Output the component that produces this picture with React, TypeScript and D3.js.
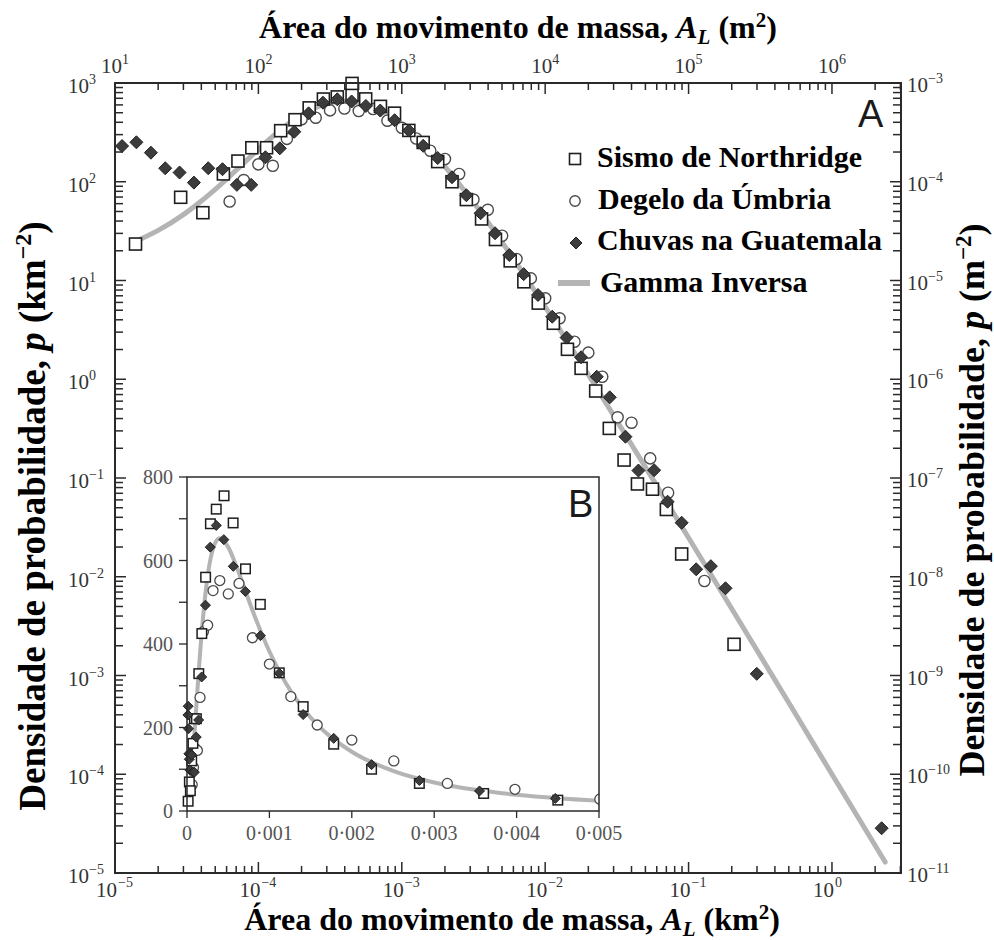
import React from "react";
import * as d3 from "d3";

// Landslide area (km²) and probability density (km⁻²) for each inventory
const northridgeArea = [1.39e-5, 2.87e-5, 4.1e-5, 5.7e-5, 7.2e-5, 9.0e-5, 1.14e-4, 1.43e-4, 1.8e-4, 2.26e-4, 2.84e-4, 3.55e-4, 4.5e-4, 4.5e-4, 5.6e-4, 7.1e-4, 8.9e-4, 1.12e-3, 1.41e-3, 1.78e-3, 2.24e-3, 2.82e-3, 3.6e-3, 4.5e-3, 5.7e-3, 7.1e-3, 8.95e-3, 1.14e-2, 1.43e-2, 1.78e-2, 2.25e-2, 2.8e-2, 3.55e-2, 4.4e-2, 5.6e-2, 7.0e-2, 8.95e-2, 0.2075];
const northridgeDensity = [23.4, 69.6, 48.6, 120, 162, 221, 221, 329, 425, 560, 688, 723, 755, 990, 690, 580, 495, 331, 250, 160, 100, 66, 42, 26, 15.8, 9.7, 5.9, 3.69, 2.01, 1.29, 0.76, 0.318, 0.152, 0.087, 0.077, 0.048, 0.017, 0.00207];

const umbriaArea = [6.3e-5, 7.9e-5, 1.0e-4, 1.26e-4, 1.58e-4, 2.0e-4, 2.51e-4, 3.16e-4, 3.98e-4, 5.01e-4, 6.31e-4, 7.94e-4, 1.0e-3, 1.26e-3, 1.58e-3, 2.0e-3, 2.51e-3, 3.16e-3, 3.98e-3, 5.01e-3, 6.31e-3, 7.94e-3, 1.0e-2, 1.26e-2, 1.6e-2, 2.0e-2, 2.5e-2, 3.2e-2, 4.0e-2, 5.4e-2, 7.2e-2, 0.129];
const umbriaDensity = [63, 104, 150, 145, 272, 430, 445, 528, 552, 520, 545, 415, 352, 274, 206, 170, 120, 66, 52, 28.4, 16.5, 10.5, 6.6, 4.14, 2.4, 1.86, 1.06, 0.412, 0.363, 0.158, 0.071, 0.00906];

const guatemalaArea = [1.12e-5, 1.41e-5, 1.78e-5, 2.24e-5, 2.82e-5, 3.55e-5, 4.47e-5, 5.62e-5, 7.08e-5, 8.91e-5, 1.12e-4, 1.41e-4, 1.78e-4, 2.24e-4, 2.82e-4, 3.55e-4, 4.47e-4, 5.62e-4, 7.08e-4, 8.91e-4, 1.12e-3, 1.41e-3, 1.78e-3, 2.24e-3, 2.82e-3, 3.55e-3, 4.47e-3, 5.62e-3, 7.08e-3, 8.91e-3, 1.12e-2, 1.41e-2, 1.78e-2, 2.29e-2, 2.82e-2, 3.63e-2, 4.47e-2, 5.75e-2, 7.14e-2, 8.95e-2, 0.113, 0.143, 0.181, 0.299, 2.22];
const guatemalaDensity = [230, 251, 197, 137, 124, 98, 137, 134, 93, 93, 177, 218, 321, 493, 632, 684, 650, 586, 526, 420, 330, 231, 174, 111, 73, 48, 30.1, 18.1, 11.6, 7.13, 4.3, 2.64, 1.67, 1.06, 0.656, 0.262, 0.119, 0.12, 0.0575, 0.0352, 0.0119, 0.0128, 0.00764, 0.00104, 2.84e-5];

// Inverse-gamma fit, sampled along the area axis
const gammaArea = [0, 1e-5, 1.5e-5, 2e-5, 3e-5, 4e-5, 5e-5, 6e-5, 7e-5, 8e-5, 1e-4, 1.2e-4, 1.5e-4, 2e-4, 2.5e-4, 3e-4, 3.5e-4, 4e-4, 5e-4, 6e-4, 7e-4, 8e-4, 1e-3, 1.2e-3, 1.5e-3, 2e-3, 2.5e-3, 3e-3, 3.5e-3, 4e-3, 4.5e-3, 5e-3, 7e-3, 1e-2, 2e-2, 3e-2, 5e-2, 0.1, 0.2, 0.5, 1, 2.35];
const gammaDensity = [12.6, 21.0, 26.2, 32.2, 46.5, 63.8, 83.8, 106, 131, 157, 213, 271, 355, 475, 562, 617, 645, 653, 632, 586, 532, 478, 382, 306, 224, 142, 96.0, 68.3, 50.7, 38.8, 30.5, 24.5, 11.9, 5.41, 1.11, 0.43, 0.129, 0.0248, 0.00474, 5.29e-4, 1.0e-4, 1.29e-5];

// Axis decades
const bottomDecades = [1e-5, 1e-4, 1e-3, 1e-2, 1e-1, 1];
const topDecades = [1e1, 1e2, 1e3, 1e4, 1e5, 1e6];
const leftDecades = [1e3, 1e2, 1e1, 1, 1e-1, 1e-2, 1e-3, 1e-4, 1e-5];
const rightDecades = [1e-3, 1e-4, 1e-5, 1e-6, 1e-7, 1e-8, 1e-9, 1e-10, 1e-11];

// Inset (linear) axes
const insetXTicks = [0, 0.001, 0.002, 0.003, 0.004, 0.005];
const insetXLabels = ["0", "0·001", "0·002", "0·003", "0·004", "0·005"];
const insetYTicks = [0, 200, 400, 600, 800];

const legendLabels = ["Sismo de Northridge", "Degelo da Úmbria", "Chuvas na Guatemala", "Gamma Inversa"];

const SERIF = "'Liberation Serif', 'Times New Roman', serif";
const SANS = "'Liberation Sans', Arial, sans-serif";

const expText = (v: number) => {
  const e = Math.round(Math.log10(v));
  return e < 0 ? "\u2212" + Math.abs(e) : String(e);
};
const isDecade = (v: number) => Math.abs(Math.log10(v) - Math.round(Math.log10(v))) < 1e-9;

function Square({ cx, cy, s, stroke = "#1e1e1e", sw = 1.6 }: any) {
  return <rect x={cx - s / 2} y={cy - s / 2} width={s} height={s} fill="#fff" stroke={stroke} strokeWidth={sw} />;
}
function Circle({ cx, cy, r, sw = 1.4 }: any) {
  return <circle cx={cx} cy={cy} r={r} fill="#fff" stroke="#4a4a4a" strokeWidth={sw} />;
}
function Diamond({ cx, cy, r }: any) {
  return (
    <path
      d={`M${cx},${cy - r}L${cx + r},${cy}L${cx},${cy + r}L${cx - r},${cy}Z`}
      fill="#3c3c3c"
      stroke="#222"
      strokeWidth={1}
    />
  );
}

export default function App() {
  const L = 115, R = 901, T = 83, B = 873;
  const x = d3.scaleLog().domain([1e-5, 3.03]).range([L, R]);
  const xTop = d3.scaleLog().domain([1e1, 3.03e6]).range([L, R]);
  const y = d3.scaleLog().domain([1e-5, 1e3]).range([B, T]);
  const yRight = d3.scaleLog().domain([1e-11, 1e-3]).range([B, T]);

  const iL = 187, iR = 599, iT = 477, iB = 811;
  const xi = d3.scaleLinear().domain([0, 0.005]).range([iL, iR]);
  const yi = d3.scaleLinear().domain([0, 800]).range([iB, iT]);

  const gammaPts: [number, number][] = gammaArea.map((a, i) => [a, gammaDensity[i]]);
  const mainCurve = d3
    .line<[number, number]>()
    .x((d) => x(d[0]))
    .y((d) => y(d[1]))
    .curve(d3.curveMonotoneX)(gammaPts.filter((d) => d[0] >= 1.5e-5));
  const insetCurve = d3
    .line<[number, number]>()
    .x((d) => xi(d[0]))
    .y((d) => yi(d[1]))
    .curve(d3.curveMonotoneX)(gammaPts.filter((d) => d[0] <= 0.0051));

  const axisColor = "#2a2a2a";
  const labelColor = "#333";

  const squares = northridgeArea.map((a, i) => ({ a, p: northridgeDensity[i] }));
  const circles = umbriaArea.map((a, i) => ({ a, p: umbriaDensity[i] }));
  const diamonds = guatemalaArea.map((a, i) => ({ a, p: guatemalaDensity[i] }));

  return (
    <svg
      width={994}
      height={940}
      viewBox="0 0 994 940"
      style={{ position: "absolute", left: 0, top: 0, background: "#fff" }}
    >
      <rect x={0} y={0} width={994} height={940} fill="#fff" />

      {/* fitted curve */}
      <path d={mainCurve || ""} fill="none" stroke="#b4b4b4" strokeWidth={5} strokeLinecap="round" />

      {/* data markers */}
      {circles.map((d, i) => (
        <Circle key={"c" + i} cx={x(d.a)} cy={y(d.p)} r={5.6} />
      ))}
      {squares.map((d, i) => (
        <Square key={"s" + i} cx={x(d.a)} cy={y(d.p)} s={12} />
      ))}
      {diamonds.map((d, i) => (
        <Diamond key={"d" + i} cx={x(d.a)} cy={y(d.p)} r={6.5} />
      ))}

      {/* frame */}
      <rect x={L} y={T} width={R - L} height={B - T} fill="none" stroke={axisColor} strokeWidth={2} />

      {/* ticks on all four sides, pointing inward */}
      {x.ticks().map((v, i) => (
        <line key={"bt" + i} x1={x(v)} x2={x(v)} y1={B} y2={B - (isDecade(v) ? 11 : 7)} stroke={axisColor} strokeWidth={1.5} />
      ))}
      {xTop.ticks().map((v, i) => (
        <line key={"tt" + i} x1={xTop(v)} x2={xTop(v)} y1={T} y2={T + (isDecade(v) ? 11 : 7)} stroke={axisColor} strokeWidth={1.5} />
      ))}
      {y.ticks().map((v, i) => (
        <line key={"lt" + i} x1={L} x2={L + (isDecade(v) ? 11 : 8)} y1={y(v)} y2={y(v)} stroke={axisColor} strokeWidth={1.5} />
      ))}
      {yRight.ticks().map((v, i) => (
        <line key={"rt" + i} x1={R} x2={R - (isDecade(v) ? 11 : 8)} y1={yRight(v)} y2={yRight(v)} stroke={axisColor} strokeWidth={1.5} />
      ))}

      {/* tick labels */}
      <g fontFamily={SERIF} fill={labelColor}>
        {bottomDecades.map((v, i) => (
          <g key={"bl" + i}>
            <text x={x(v) + 2} y={B + 24} fontSize={21} textAnchor="end">10</text>
            <text x={x(v) + 3} y={B + 14} fontSize={14}>{expText(v)}</text>
          </g>
        ))}
        {topDecades.map((v, i) => (
          <text key={"tl" + i} x={xTop(v)} y={T - 10} fontSize={21} textAnchor="middle">
            10<tspan fontSize={14} dy={-9}>{expText(v)}</tspan>
          </text>
        ))}
        {leftDecades.map((v, i) => (
          <text key={"ll" + i} x={68} y={y(v) + 10} fontSize={21}>
            10<tspan fontSize={14} dy={-9}>{expText(v)}</tspan>
          </text>
        ))}
        {rightDecades.map((v, i) => (
          <text key={"rl" + i} x={907} y={yRight(v) + 9} fontSize={21}>
            10<tspan fontSize={14} dy={-9}>{expText(v)}</tspan>
          </text>
        ))}
      </g>

      {/* axis titles */}
      <g fontFamily={SERIF} fontWeight="bold" fill="#000">
        <text x={518} y={38} fontSize={32} textAnchor="middle">
          Área do movimento de massa, <tspan fontStyle="italic">A</tspan>
          <tspan fontStyle="italic" fontSize={21} dy={6}>L</tspan>
          <tspan dy={-6}> (m</tspan>
          <tspan fontSize={21} dy={-11}>2</tspan>
          <tspan dy={11}>)</tspan>
        </text>
        <text x={512} y={930} fontSize={32} textAnchor="middle">
          Área do movimento de massa, <tspan fontStyle="italic">A</tspan>
          <tspan fontStyle="italic" fontSize={21} dy={6}>L</tspan>
          <tspan dy={-6}> (km</tspan>
          <tspan fontSize={21} dy={-11}>2</tspan>
          <tspan dy={11}>)</tspan>
        </text>
        <text transform="translate(45,516) rotate(-90)" fontSize={37} textAnchor="middle">
          Densidade de probabilidade, <tspan fontStyle="italic">p</tspan> (km
          <tspan fontSize={24} dy={-14}>−2</tspan>
          <tspan dy={14}>)</tspan>
        </text>
        <text transform="translate(984,500) rotate(-90)" fontSize={36} textAnchor="middle">
          Densidade de probabilidade, <tspan fontStyle="italic">p</tspan> (m
          <tspan fontSize={23} dy={-13}>−2</tspan>
          <tspan dy={13}>)</tspan>
        </text>
      </g>

      {/* panel letter */}
      <text x={858} y={127} fontFamily={SANS} fontSize={38} fill="#1a1a1a">A</text>

      {/* legend */}
      <g fontFamily={SERIF} fontWeight="bold" fontSize={30} fill="#000">
        <Square cx={575} cy={159} s={11} />
        <text x={597} y={167}>{legendLabels[0]}</text>
        <Circle cx={575} cy={201} r={5.2} />
        <text x={598} y={209}>{legendLabels[1]}</text>
        <Diamond cx={576} cy={243} r={6} />
        <text x={597} y={250}>{legendLabels[2]}</text>
        <line x1={558} x2={590} y1={283} y2={283} stroke="#b4b4b4" strokeWidth={6} />
        <text x={600} y={292}>{legendLabels[3]}</text>
      </g>

      {/* inset B: linear axes */}
      <defs>
        <clipPath id="insetClip">
          <rect x={iL - 8} y={iT} width={iR - iL + 8} height={iB - iT + 8} />
        </clipPath>
      </defs>
      <rect x={iL} y={iT} width={iR - iL} height={iB - iT} fill="#fff" stroke="none" />
      <g clipPath="url(#insetClip)">
        <path d={insetCurve || ""} fill="none" stroke="#b4b4b4" strokeWidth={4} />
        {circles.map((d, i) => (
          <Circle key={"ic" + i} cx={xi(d.a)} cy={yi(d.p)} r={5} sw={1.3} />
        ))}
        {squares.map((d, i) => (
          <Square key={"is" + i} cx={xi(d.a)} cy={yi(d.p)} s={9.5} sw={1.5} />
        ))}
        {diamonds.map((d, i) => (
          <Diamond key={"id" + i} cx={xi(d.a)} cy={yi(d.p)} r={5} />
        ))}
      </g>
      <rect x={iL} y={iT} width={iR - iL} height={iB - iT} fill="none" stroke={axisColor} strokeWidth={1.5} />
      {d3.range(0, 801, 100).map((v) => (
        <line key={"iy" + v} x1={iL - 8} x2={iL} y1={yi(v)} y2={yi(v)} stroke={axisColor} strokeWidth={1.3} />
      ))}
      {insetXTicks.map((v, i) => (
        <line key={"ix" + i} x1={xi(v)} x2={xi(v)} y1={iB} y2={iB + 7} stroke={axisColor} strokeWidth={1.3} />
      ))}
      <g fontFamily={SERIF} fontSize={20} fill="#555">
        {insetYTicks.map((v, i) => (
          <text key={"iyl" + i} x={iL - 14} y={yi(v) + 7} textAnchor="end">{v}</text>
        ))}
        {insetXTicks.map((v, i) => (
          <text key={"ixl" + i} x={xi(v)} y={iB + 29} textAnchor="middle">{insetXLabels[i]}</text>
        ))}
      </g>
      <text x={568} y={517} fontFamily={SANS} fontSize={38} fill="#1a1a1a">B</text>
    </svg>
  );
}
